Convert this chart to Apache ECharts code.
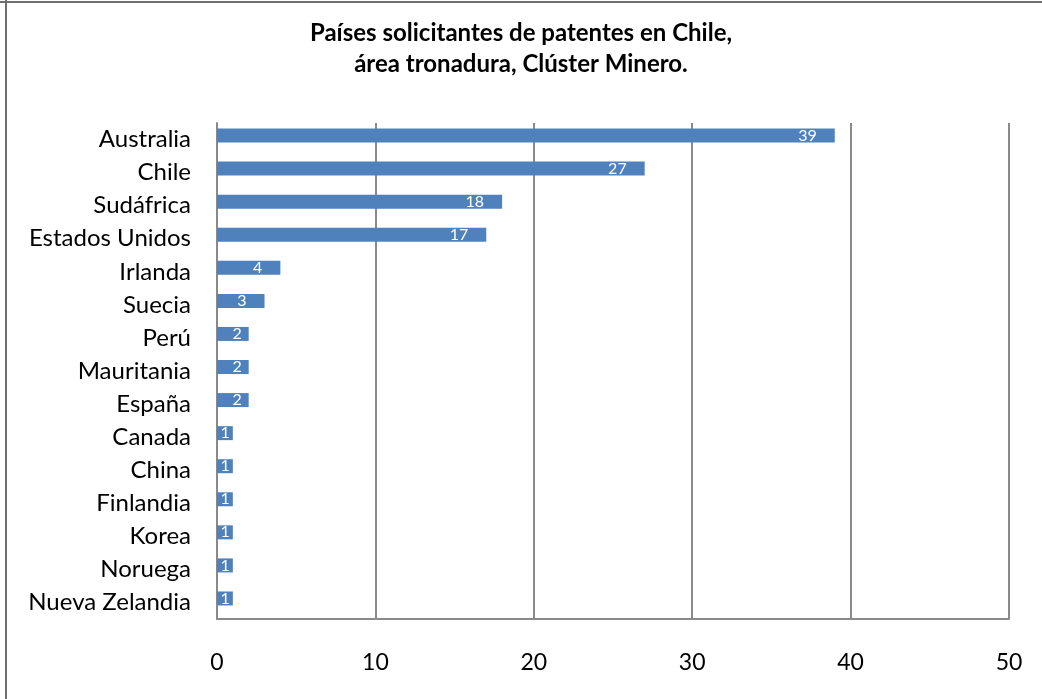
<!DOCTYPE html>
<html>
<head>
<meta charset="utf-8">
<script src="https://cdn.jsdelivr.net/npm/echarts@6/dist/echarts.min.js"></script>
<style>
html,body{margin:0;padding:0;background:#fff;}
#main{width:1042px;height:699px;}
</style>
</head>
<body>
<div id="main"></div>
<script>
var paises = ['Australia','Chile','Sudáfrica','Estados Unidos','Irlanda','Suecia','Perú','Mauritania','España','Canada','China','Finlandia','Korea','Noruega','Nueva Zelandia'];
var solicitudes = [39,27,18,17,4,3,2,2,2,1,1,1,1,1,1];
var ejeX = [0,10,20,30,40,50];

var dom = document.getElementById("main");
var myChart = echarts.init(dom);
var option = null;
var fuente = 'Lato, "Noto Sans", sans-serif';

// etiqueta dentro del extremo; en barras cortas queda casi centrada
var datos = [];
var vacio = [];
for (var i = 0; i < solicitudes.length; i++) {
    var value = solicitudes[i];
    var d = 18;
    if (value == 2) d = 7;
    if (value == 1) d = 3;
    datos.push({value: value, label: {distance: d}});
    vacio.push(0);
}

option = {
    backgroundColor: '#fff',
    animation: false,
    title: {
        text: 'Países solicitantes de patentes en Chile,\nárea tronadura, Clúster Minero.',
        left: 'center',
        top: 13,
        textStyle: {
            fontFamily: fuente,
            fontSize: 24,
            fontWeight: 'bold',
            color: '#000',
            lineHeight: 31
        }
    },
    graphic: [
        {type: 'line', shape: {x1: 6, y1: 0, x2: 6, y2: 699}, style: {stroke: '#6e6e6e', lineWidth: 2}},
        {type: 'line', shape: {x1: 0, y1: 2, x2: 1042, y2: 2}, style: {stroke: '#6e6e6e', lineWidth: 2}}
    ],
    grid: {
        left: 217,
        right: 33,
        top: 123,
        bottom: 80
    },
    xAxis: {
        type: 'value',
        min: ejeX[0],
        max: ejeX[ejeX.length - 1],
        interval: 10,
        axisLine: {show: true, lineStyle: {color: '#8a8a8a', width: 2}},
        axisTick: {show: false},
        splitLine: {show: true, lineStyle: {color: '#8a8a8a', width: 2}},
        axisLabel: {
            margin: 32,
            fontFamily: fuente,
            fontSize: 23,
            color: '#000'
        }
    },
    yAxis: {
        type: 'category',
        inverse: true,
        data: paises,
        axisLine: {show: true, lineStyle: {color: '#8a8a8a', width: 2}},
        axisTick: {show: false},
        axisLabel: {
            margin: 26,
            fontFamily: fuente,
            fontSize: 24,
            color: '#000'
        }
    },
    series: [
        {
            type: 'bar',
            data: datos,
            barWidth: 14,
            barGap: '-43%',
            itemStyle: {color: '#4f81bd'},
            label: {
                show: true,
                position: 'insideRight',
                distance: 18,
                color: '#fff',
                fontFamily: fuente,
                fontSize: 16
            }
        },
        { // serie vacia, solo para subir las barras unos px
            type: 'bar',
            data: vacio,
            barWidth: 14,
            barGap: '-43%',
            silent: true,
            itemStyle: {opacity: 0},
            label: {show: false}
        }
    ]
};

if (option && typeof option === "object") {
    myChart.setOption(option, true);
}
</script>
</body>
</html>
